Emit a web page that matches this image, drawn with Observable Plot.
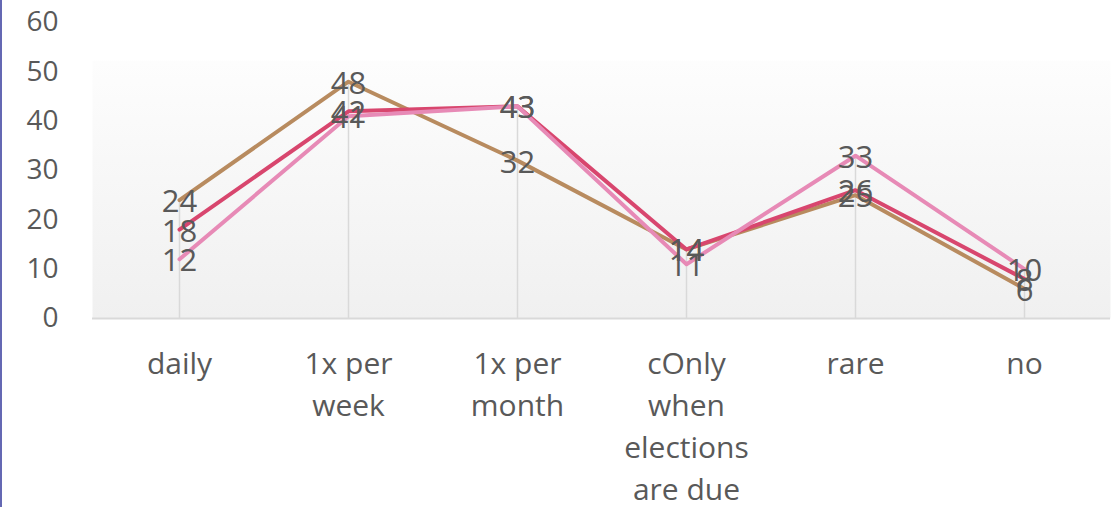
<!DOCTYPE html>
<html>
<head>
<meta charset="utf-8">
<script src="https://cdn.jsdelivr.net/npm/d3@7"></script>
<script src="https://cdn.jsdelivr.net/npm/@observablehq/plot@0.6"></script>
<style>
  html, body { margin: 0; padding: 0; background: #fff; }
  #chart { width: 1120px; height: 507px; position: relative; overflow: hidden; }
  #chart::before { content: ""; position: absolute; left: 0; top: 0; width: 2px; height: 507px; background: #6468b3; }
  svg { display: block; }
</style>
</head>
<body>
<div id="chart"></div>
<script>
const categories = ["daily", "1x per week", "1x per month", "cOnly when elections are due", "rare", "no"];
const tickLabels = ["daily", "1x per\nweek", "1x per\nmonth", "cOnly\nwhen\nelections\nare due", "rare", "no"];
const seriesNames = ["Series1", "Series2", "Series3"];
const series1 = [24, 48, 32, 14, 25, 6];
const series2 = [18, 42, 43, 14, 26, 8];
const series3 = [12, 41, 43, 11, 33, 10];
const seriesColors = ["#b88b5f", "#d8466e", "#e78ab6"];
const yTicks = [0, 10, 20, 30, 40, 50, 60];

const allSeries = [series1, series2, series3];
const data = [];
allSeries.forEach((vals, s) => vals.forEach((v, i) => data.push({series: seriesNames[s], cat: categories[i], value: v})));
const drops = categories.map((c, i) => ({cat: c, top: Math.max(...allSeries.map(a => a[i]))}));

const font = "'Open Sans', 'Noto Sans', sans-serif";

const plot = Plot.plot({
  width: 1120,
  height: 507,
  marginLeft: 92,
  marginRight: 10,
  marginTop: 22,
  marginBottom: 189,
  style: {fontFamily: font, background: "transparent", color: "#595959"},
  x: {type: "point", domain: categories, padding: 0.5},
  y: {domain: [0, 60]},
  color: {domain: seriesNames, range: seriesColors},
  marks: [
    Plot.frame({fill: "url(#bggrad)", stroke: null}),
    Plot.ruleX(drops, {x: "cat", y1: 0, y2: "top", stroke: "#d9d9d9", strokeWidth: 1.5}),
    Plot.ruleY([0], {stroke: "#d9d9d9", strokeWidth: 2}),
    Plot.axisY({ticks: yTicks, tickSize: 0, tickPadding: 34, fontSize: 28, fill: "#595959", label: null}),
    Plot.axisX({tickSize: 0, tickPadding: 26, fontSize: 30, fill: "#595959", lineHeight: 1.4, label: null,
      tickFormat: (d) => tickLabels[categories.indexOf(d)]}),
    Plot.line(data, {x: "cat", y: "value", z: "series", stroke: "series", strokeWidth: 4, strokeLinejoin: "round"}),
    Plot.text(data, {x: "cat", y: "value", text: (d) => String(d.value), fontSize: 31, dy: 2, fill: "#595959"})
  ]
});

// gradient for the plot area background
const ns = "http://www.w3.org/2000/svg";
const defs = document.createElementNS(ns, "defs");
defs.innerHTML = `<linearGradient id="bggrad" x1="0" y1="0" x2="0" y2="1">
  <stop offset="0" stop-color="#ffffff" stop-opacity="0"/>
  <stop offset="0.128" stop-color="#ffffff" stop-opacity="0"/>
  <stop offset="0.129" stop-color="#fdfdfd"/>
  <stop offset="1" stop-color="#f0f0f0"/>
</linearGradient>`;
plot.insertBefore(defs, plot.firstChild);
document.getElementById("chart").appendChild(plot);
</script>
</body>
</html>
